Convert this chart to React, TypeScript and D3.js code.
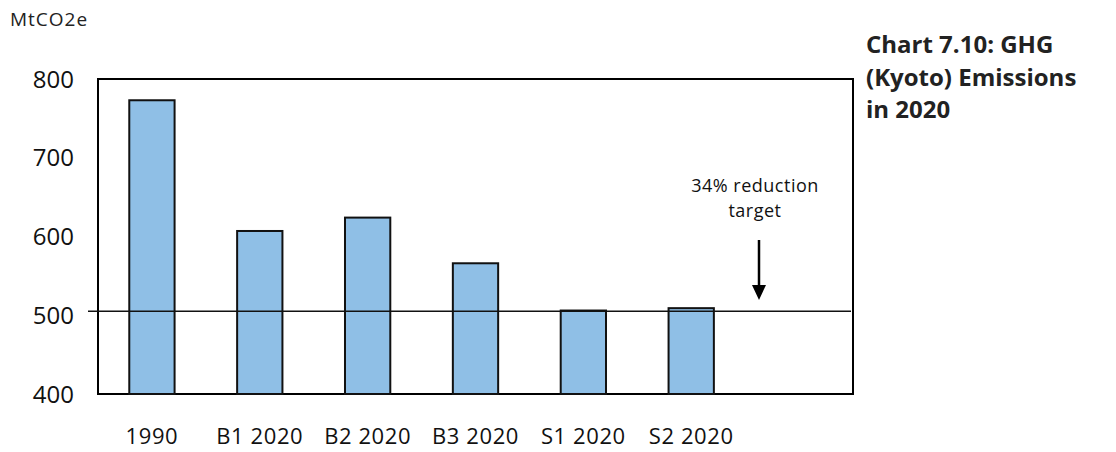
import React from "react";
import * as d3 from "d3";

const categories = ["1990", "B1 2020", "B2 2020", "B3 2020", "S1 2020", "S2 2020", ""];
const values: (number | null)[] = [773, 607, 624, 566, 506, 509, null];
const yTicks = [400, 500, 600, 700, 800];
const targetValue = 505;
const unitLabel = "MtCO2e";
const titleLines = ["Chart 7.10: GHG", "(Kyoto) Emissions", "in 2020"];
const annotationLines = ["34% reduction", "target"];

const W = 1116;
const H = 452;
const m = { left: 98, right: 263, top: 79, bottom: 58 };
const FONT = "'Open Sans', 'DejaVu Sans', sans-serif";

export default function App() {
  const keys = categories.map((c, i) => c + "#" + i);
  const x = d3
    .scaleBand<string>()
    .domain(keys)
    .range([m.left, W - m.right])
    .paddingInner(0.58)
    .paddingOuter(0.29);
  const y = d3.scaleLinear().domain([400, 800]).range([H - m.bottom, m.top]);
  const arrowX = 759;

  return (
    <svg width={W} height={H} style={{ position: "absolute", left: 0, top: 0, background: "#fff" }}>
      <text x={10} y={26} fontFamily={FONT} fontSize={19} letterSpacing={1} fill="#222">
        {unitLabel}
      </text>
      {/* frame */}
      <rect
        x={m.left}
        y={m.top}
        width={W - m.left - m.right}
        height={H - m.top - m.bottom}
        fill="none"
        stroke="#000"
        strokeWidth={2}
      />
      {/* y tick labels */}
      {yTicks.map((t) => (
        <text
          key={t}
          x={74}
          y={y(t)}
          dy="0.36em"
          textAnchor="end"
          fontFamily={FONT}
          fontSize={24}
          fill="#111"
        >
          {t}
        </text>
      ))}
      {/* bars */}
      {values.map((v, i) =>
        v == null ? null : (
          <rect
            key={i}
            x={x(keys[i])!}
            y={y(v)}
            width={x.bandwidth()}
            height={y(400) - y(v)}
            fill="#8fbfe6"
            stroke="#111"
            strokeWidth={2}
          />
        )
      )}
      {/* target line */}
      <line
        x1={88}
        x2={W - m.right - 2}
        y1={y(targetValue)}
        y2={y(targetValue)}
        stroke="#111"
        strokeWidth={1.6}
      />
      {/* x labels */}
      {categories.map((c, i) => (
        <text
          key={i}
          x={x(keys[i])! + x.bandwidth() / 2}
          y={444}
          textAnchor="middle"
          fontFamily={FONT}
          fontSize={22}
          letterSpacing={0.6}
          fill="#111"
        >
          {c}
        </text>
      ))}
      {/* annotation */}
      {annotationLines.map((l, i) => (
        <text
          key={i}
          x={755}
          y={192 + i * 25}
          textAnchor="middle"
          fontFamily={FONT}
          fontSize={18}
          letterSpacing={0.5}
          fill="#111"
        >
          {l}
        </text>
      ))}
      <line x1={arrowX} x2={arrowX} y1={240} y2={288} stroke="#000" strokeWidth={2.5} />
      <path d={`M${arrowX - 7},${285} L${arrowX + 7},${285} L${arrowX},${300} Z`} fill="#000" />
      {/* title */}
      {titleLines.map((l, i) => (
        <text
          key={i}
          x={866}
          y={53 + i * 32.5}
          fontFamily={FONT}
          fontSize={24}
          fontWeight="bold"
          fill="#222"
        >
          {l}
        </text>
      ))}
    </svg>
  );
}
